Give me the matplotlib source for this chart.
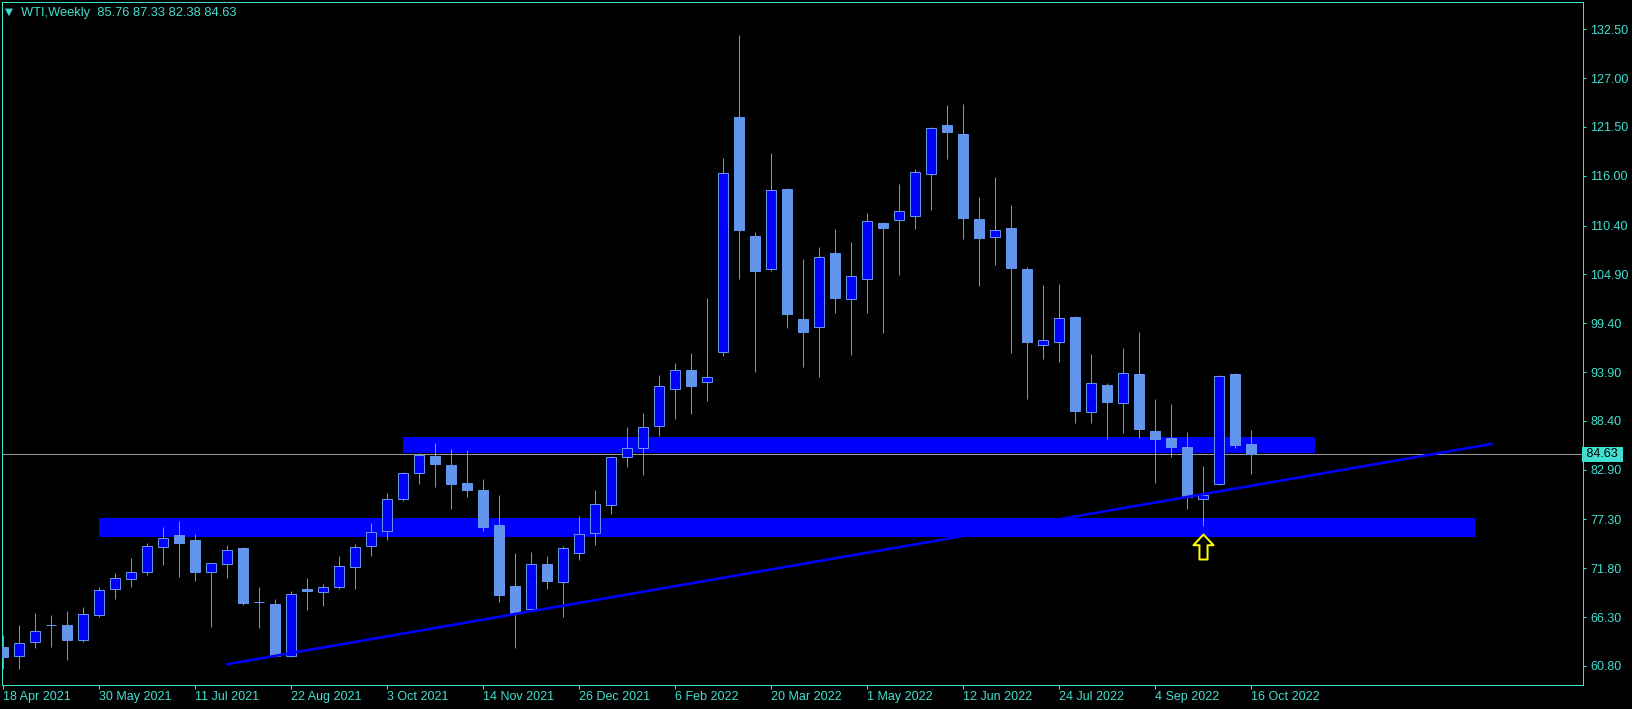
import datetime
import numpy as np
import matplotlib
matplotlib.use("Agg")
import matplotlib.pyplot as plt
from matplotlib.patches import Rectangle
from matplotlib.path import Path
import matplotlib.transforms as mtransforms

# weekly WTI candles, first bar = week of 18 Apr 2021
first_week = datetime.date(2021, 4, 18)
opens = [62.98, 61.96, 63.54, 65.40, 65.42, 63.76, 66.58, 69.43, 70.63, 71.42,
         74.24, 75.55, 74.99, 71.42, 72.32, 74.09, 68.02, 67.78, 61.96, 69.47,
         69.17, 69.73, 71.99, 74.35, 76.04, 79.64, 82.57, 84.45, 83.44, 81.41,
         80.62, 76.68, 69.81, 67.22, 72.29, 70.22, 73.56, 75.81, 78.97, 84.37,
         85.39, 87.79, 92.03, 94.13, 92.82, 96.12, 122.62, 109.22, 105.47, 114.52,
         99.88, 98.92, 107.29, 102.08, 104.35, 110.69, 110.99, 111.53, 116.17, 121.72,
         120.71, 111.14, 109.07, 110.12, 105.51, 96.89, 97.23, 100.10, 89.44, 92.44,
         90.45, 93.68, 87.26, 86.48, 85.46, 79.57, 81.26, 93.68, 85.76]
highs = [64.29, 65.42, 66.77, 66.54, 66.99, 67.44, 69.70, 71.27, 72.96, 74.65,
         76.45, 77.13, 75.66, 72.45, 74.42, 74.15, 69.70, 68.35, 69.25, 70.71,
         70.03, 73.19, 74.54, 76.90, 80.28, 82.68, 84.79, 85.91, 85.24, 85.12,
         81.86, 80.06, 73.53, 73.60, 73.19, 74.32, 77.69, 80.62, 84.45, 87.71,
         89.29, 93.57, 94.92, 96.05, 102.24, 118.01, 131.86, 109.67, 118.57, 114.60,
         106.63, 107.99, 110.01, 108.55, 111.81, 110.80, 115.08, 116.77, 121.50, 123.98,
         124.09, 113.61, 115.87, 112.71, 105.73, 103.70, 103.82, 100.21, 95.93, 92.67,
         96.61, 98.41, 90.87, 90.30, 87.15, 83.32, 93.53, 93.79, 87.33]
lows = [60.46, 60.46, 62.83, 62.98, 61.47, 63.50, 66.35, 68.38, 69.73, 71.08,
        72.17, 70.82, 70.37, 65.23, 70.71, 67.67, 65.08, 61.80, 61.85, 67.11,
        67.56, 69.47, 69.47, 73.19, 74.99, 79.38, 81.30, 81.00, 78.52, 79.87,
        76.04, 68.05, 62.85, 67.11, 69.47, 66.36, 72.74, 74.43, 77.92, 83.21,
        82.31, 86.74, 88.65, 89.22, 90.68, 95.75, 104.42, 93.95, 105.32, 98.90,
        94.51, 93.38, 100.59, 95.86, 100.59, 98.34, 104.83, 110.05, 112.19, 117.93,
        108.92, 103.63, 105.99, 96.08, 90.91, 95.41, 95.07, 88.20, 88.20, 86.40,
        87.08, 86.51, 81.45, 84.37, 78.44, 76.60, 81.20, 85.39, 82.38]
closes = [61.85, 63.35, 64.70, 65.36, 63.73, 66.62, 69.32, 70.67, 71.35, 74.27,
          75.18, 74.65, 71.39, 72.36, 73.82, 67.89, 67.98, 61.93, 68.87, 69.20,
          69.70, 72.02, 74.16, 75.85, 79.57, 82.52, 84.52, 83.59, 81.30, 80.62,
          76.49, 68.80, 66.73, 72.25, 70.41, 74.05, 75.63, 79.00, 84.30, 85.31,
          87.68, 92.29, 94.09, 92.37, 93.31, 116.28, 109.94, 105.32, 114.37, 100.48,
          98.45, 106.82, 102.28, 104.68, 110.88, 110.16, 112.00, 116.40, 121.35, 120.97,
          111.29, 109.04, 109.86, 105.66, 97.33, 97.47, 99.95, 89.51, 92.63, 90.53,
          93.76, 87.53, 86.40, 85.50, 79.87, 80.10, 93.42, 85.73, 84.63]

# drawn objects: (first bar, last bar, low price, high price)
upper_zone = (25, 82, 84.77, 86.59)
lower_zone = (6, 92, 75.31, 77.47)
trend_bars = [14, 93]
trend_prices = [61.0, 85.8]
arrow_bar = 75
arrow_price = 75.66

yticks = [132.50, 127.00, 121.50, 116.00, 110.40, 104.90, 99.40, 93.90,
          88.40, 82.90, 77.30, 71.80, 66.30, 60.80]
label_step = 6

fg = '#40E0D0'
bull = '#0000FF'
bear = '#6495ED'
px = 0.72  # one pixel in points at dpi 100

plt.rcParams['font.family'] = ['Liberation Sans', 'DejaVu Sans']

W, H = 1633, 709
fig = plt.figure(figsize=(W / 100, H / 100), dpi=100, facecolor='black')
ax = fig.add_axes([2.3 / W, (H - 684.7) / H, 1581 / W, 682.4 / H])
ax.set_facecolor('black')

n = len(closes)
xs = np.arange(n)

# zones behind the candles
for z in (upper_zone, lower_zone):
    ax.add_patch(Rectangle((z[0], z[2]), z[1] - z[0], z[3] - z[2],
                           facecolor=bull, edgecolor='none', zorder=1))

# candles
body_w = 10 / 16
for i in range(n):
    o, h, l, c = opens[i], highs[i], lows[i], closes[i]
    ax.plot([xs[i], xs[i]], [l, h], color=bear, lw=px, zorder=2,
            solid_capstyle='butt')
    lo, hi = min(o, c), max(o, c)
    face = bull if c > o else bear
    ax.add_patch(Rectangle((xs[i] - body_w / 2, lo), body_w, hi - lo,
                           facecolor=face, edgecolor=bear, lw=px, zorder=3))

# trend line
ax.plot(trend_bars, trend_prices, color=bull, lw=2.6 * px, zorder=4)

# current price line
ax.axhline(closes[-1], color='#9a9a9a', lw=px, zorder=2)

# yellow up arrow (hollow), tip at anchor
arrow_verts = [(0, 0), (-0.42, -0.45), (-0.17, -0.45), (-0.17, -1.05),
               (0.17, -1.05), (0.17, -0.45), (0.42, -0.45), (0, 0)]
arrow_path = Path(arrow_verts, [Path.MOVETO] + [Path.LINETO] * 6 + [Path.CLOSEPOLY])
ax.plot([arrow_bar], [arrow_price], marker=arrow_path, markersize=36,
        markerfacecolor='none', markeredgecolor='#FFFF00', markeredgewidth=2 * px,
        zorder=5)

ax.set_xlim(-0.0625, 98.75)
ax.set_ylim(58.69, 135.54)

for s in ax.spines.values():
    s.set_color(fg)
    s.set_linewidth(px)

# price axis
ax.yaxis.tick_right()
ax.set_yticks(yticks)
ax.set_yticklabels(['%.2f' % v for v in yticks])
ax.tick_params(axis='y', direction='out', length=3 * px, width=px, colors=fg,
               labelsize=9, pad=3)

# time axis
tick_idx = list(range(0, n, label_step))
tick_lbl = []
for i in tick_idx:
    d = first_week + datetime.timedelta(weeks=i)
    tick_lbl.append('%d %s' % (d.day, d.strftime('%b %Y')))
ax.set_xticks(tick_idx)
ax.set_xticklabels(tick_lbl)
ax.tick_params(axis='x', direction='out', length=4 * px, width=px, colors=fg,
               labelsize=9, pad=2)
for t in ax.get_xticklabels():
    t.set_ha('left')

# current price tag
tag_tr = mtransforms.blended_transform_factory(ax.transAxes, ax.transData)
ax.text(1.0, closes[-1], ' %.2f ' % closes[-1], transform=tag_tr, va='center', ha='left',
        fontsize=9, color='black', clip_on=False,
        bbox=dict(boxstyle='square,pad=0.1', facecolor=fg, edgecolor='none'))

# header
fig.text(5 / W, 1 - 11.5 / H, '\u25bc', color=fg, fontsize=7.5, va='center', ha='left',
         family='DejaVu Sans')
fig.text(21 / W, 1 - 13 / H, 'WTI,Weekly  %.2f %.2f %.2f %.2f' % (
    opens[-1], highs[-1], lows[-1], closes[-1]),
    color=fg, fontsize=9.3, va='center', ha='left')

fig.savefig('out.png', dpi=100, facecolor='black')
